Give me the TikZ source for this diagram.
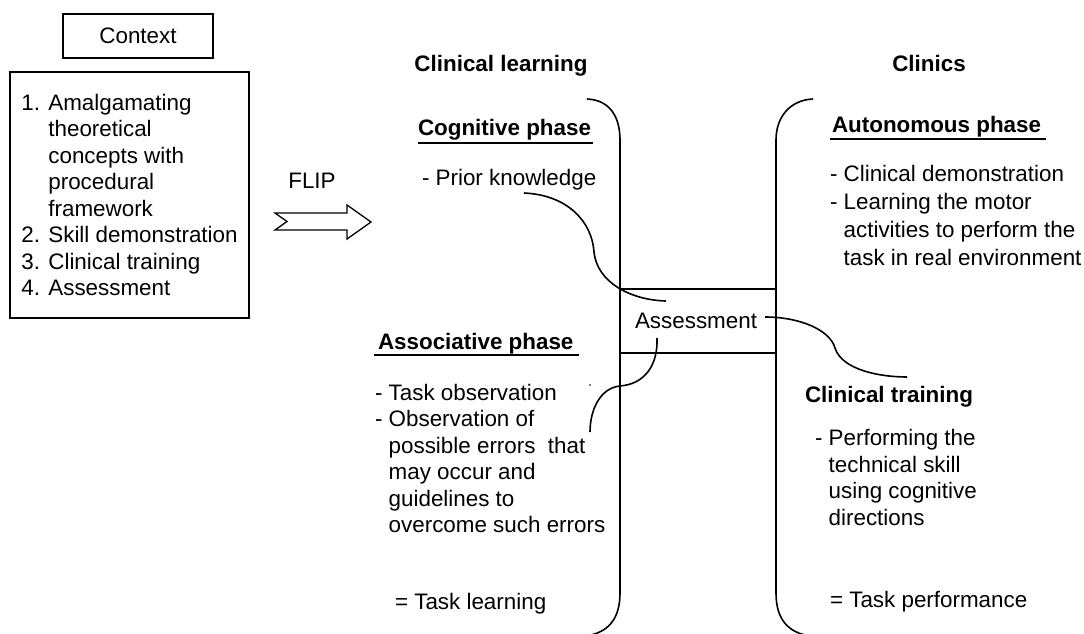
\documentclass[tikz,border=0pt]{standalone}
\usepackage{fontspec}
\setmainfont{Liberation Sans}
\begin{document}
\begin{tikzpicture}[x=1pt,y=-1pt,
  txt/.style={inner sep=0pt, outer sep=0pt, font=\fontsize{22.4pt}{26.5pt}\selectfont},
  blk/.style={txt, align=left, anchor=north west},
  single/.style={txt, anchor=base west},
  ctr/.style={txt, anchor=base},
  ttl/.style={txt, anchor=base west, font=\fontsize{22.4pt}{26.5pt}\selectfont\bfseries},
  head/.style={txt, anchor=base, font=\fontsize{22.4pt}{26.5pt}\selectfont\bfseries},
  frame/.style={draw, line width=1.5pt},
  ln/.style={line width=1.6pt},
  ul/.style={line width=1.8pt},
  link/.style={line width=1.6pt}]
\useasboundingbox (0,0) rectangle (1084,634);

% context column
\node[frame, txt, minimum width=150pt, minimum height=44pt] (ctx) at (138,36) {Context};
\node[frame, txt, align=left, anchor=north west, minimum width=239pt, minimum height=246pt]
  (list) at (10,72)
  {1. Amalgamating\\
   \phantom{1. }theoretical\\
   \phantom{1. }concepts with\\
   \phantom{1. }procedural\\
   \phantom{1. }framework\\
   2. Skill demonstration\\
   3. Clinical training\\
   4. Assessment};

% FLIP arrow
\node[ctr] (flip) at (312,188) {FLIP};
\coordinate (at) at (275,213);
\draw[line width=1.3pt] (at) -- (347,213) -- (347,205) -- (371,222) -- (347,239)
  -- (347,230) -- (275,230) -- (287,221.5) -- cycle;

% column headings
\node[head] (learn) at (501,71) {Clinical learning};
\node[head] (clin) at (929,71) {Clinics};

% brackets
\coordinate (lt) at (587,99);
\coordinate (rt) at (813,99);
\draw[ln] (lt) .. controls (610,100) and (620,117) .. (620,140) -- (620,593)
  .. controls (620,618) and (609,633) .. (585,636);
\draw[ln] (rt) .. controls (790,100) and (776,117) .. (776,140) -- (776,593)
  .. controls (776,618) and (787,633) .. (811,636);

% assessment band
\coordinate (ba) at (620,289);
\coordinate (bb) at (776,289);
\coordinate (bc) at (620,353);
\coordinate (bd) at (776,353);
\draw[ln] (ba) -- (bb);
\draw[ln] (bc) -- (bd);
\node[ctr] (assess) at (696,328) {Assessment};

% cognitive phase
\node[ttl] (cog) at (418,135) {Cognitive phase};
\draw[ul] ([yshift=-8pt]cog.base west) -- ([yshift=-8pt,xshift=2pt]cog.base east);
\node[single] (prior) at (422,185) {- Prior knowledge};

% autonomous phase
\node[ttl] (auto) at (832,132) {Autonomous phase};
\draw[ul] ([yshift=-7pt,xshift=-2pt]auto.base west) -- ([yshift=-7pt,xshift=5pt]auto.base east);
\node[blk, font=\fontsize{22.4pt}{28pt}\selectfont] (autol) at (830,165)
  {- Clinical demonstration\\
   - Learning the motor\\
   \phantom{- }activities to perform the\\
   \phantom{- }task in real environment};

% associative phase
\node[ttl] (assoc) at (378,349) {Associative phase};
\draw[ul] ([yshift=-6pt,xshift=-4pt]assoc.base west) -- ([yshift=-6pt,xshift=6pt]assoc.base east);
\node[blk] (assocl) at (375,384)
  {- Task observation\\
   - Observation of\\
   \phantom{- }possible errors~ that\\
   \phantom{- }may occur and\\
   \phantom{- }guidelines to\\
   \phantom{- }overcome such errors};
\fill (590,385) circle (0.9pt);
\node[single] (tlearn) at (395,609) {= Task learning};

% clinical training
\node[ttl] (train) at (805,402) {Clinical training};
\node[blk, font=\fontsize{22.4pt}{26.8pt}\selectfont] (trainl) at (815,429)
  {- Performing the\\
   \phantom{- }technical skill\\
   \phantom{- }using cognitive\\
   \phantom{- }directions};
\node[single] (tperf) at (830,607) {= Task performance};

% links through the assessment band
\coordinate (c1a) at (524,193);
\coordinate (c1b) at (666,301);
\draw[link] (c1a) .. controls (568,195) and (592,222) .. (594,252)
  .. controls (597,282) and (630,300) .. (c1b);
\coordinate (c2a) at (765,317);
\coordinate (c2b) at (907,377);
\draw[link] (c2a) .. controls (800,317) and (830,330) .. (835,348)
  .. controls (842,370) and (880,377) .. (c2b);
\coordinate (c3a) at (657,338);
\coordinate (c3b) at (590,432);
\draw[link] (c3a) .. controls (658,365) and (645,384) .. (620,386)
  .. controls (600,388) and (590,410) .. (c3b);
\end{tikzpicture}
\end{document}
